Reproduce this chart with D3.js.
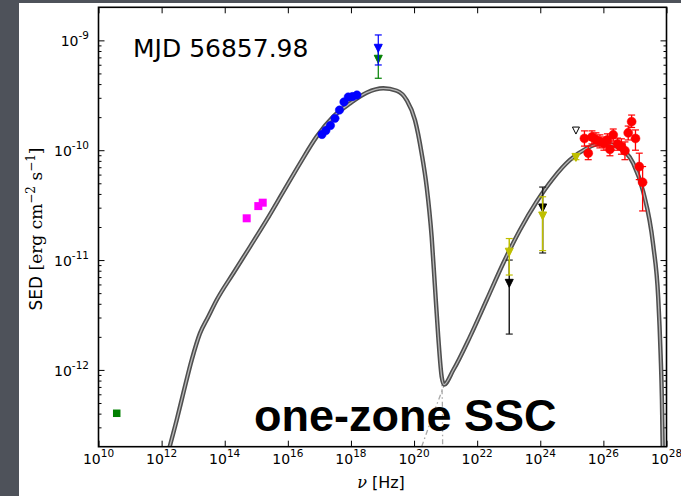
<!DOCTYPE html>
<html>
<head>
<meta charset="utf-8">
<script src="https://cdn.jsdelivr.net/npm/d3@7"></script>
<style>
  html, body { margin: 0; padding: 0; background: #4e525a; }
  svg { display: block; }
</style>
</head>
<body>
<svg id="chart" width="681" height="496"></svg>
<script>
// ---- axis ticks ----
const xTickValues = [1e10, 1e12, 1e14, 1e16, 1e18, 1e20, 1e22, 1e24, 1e26, 1e28];
const xTickExponents = ["10", "12", "14", "16", "18", "20", "22", "24", "26", "28"];
const yTickValues = [1e-12, 1e-11, 1e-10, 1e-9];
const yTickExponents = ["-12", "-11", "-10", "-9"];

// ---- one-zone SSC model (total) ----
const modelNu = [1.53e12, 3.01e12, 4.86e12, 8.97e12, 1.64e13, 3.01e13, 5.56e13, 1.87e14, 6.31e14, 2.14e15,
  7.18e15, 2.43e16, 8.20e16, 2.75e17, 9.31e17, 3.15e18, 1.06e19, 2.81e19, 5.83e19, 1.07e20,
  1.74e20, 2.51e20, 3.61e20, 4.59e20, 5.85e20, 7.50e20, 8.85e20, 1.75e21, 5.90e21, 2.00e22,
  6.70e22, 2.27e23, 7.66e23, 2.57e24, 8.71e24, 2.94e25, 9.89e25, 3.34e26, 8.81e26, 1.83e27,
  3.79e27, 5.47e27, 6.52e27, 7.16e27, 7.59e27];
const modelSED = [1.68e-13, 3.50e-13, 6.12e-13, 1.23e-12, 2.15e-12, 3.05e-12, 4.33e-12, 7.59e-12, 1.32e-11, 2.32e-11,
  4.19e-11, 7.60e-11, 1.33e-10, 2.02e-10, 2.67e-10, 3.34e-10, 3.66e-10, 3.48e-10, 2.86e-10, 1.88e-10,
  9.38e-11, 4.66e-11, 1.63e-11, 5.73e-12, 2.00e-12, 8.67e-13, 7.36e-13, 9.98e-13, 2.00e-12, 4.33e-12,
  9.35e-12, 1.88e-11, 3.40e-11, 5.55e-11, 8.15e-11, 1.04e-10, 1.16e-10, 1.04e-10, 7.60e-11, 4.19e-11,
  1.37e-11, 4.52e-12, 1.37e-12, 5.32e-13, 1.87e-13];

// ---- model components where they leave the total ----
const syncTailNu = [7.50e20, 7.90e20, 8.10e20];
const syncTailSED = [8.67e-13, 5.0e-13, 1.5e-13];
const icTailNu = [9.53e20, 4.5e20, 1.74e20, 1.33e20];
const icTailSED = [7.59e-13, 4.3e-13, 2.0e-13, 1.68e-13];

// ---- observations ----
const radioNu = [3.78e10];
const radioSED = [4.03e-13];

const opticalNu = [4.97e14, 1.16e15, 1.60e15];
const opticalSED = [2.40e-11, 3.10e-11, 3.33e-11];

const xrayNu = [1.21e17, 1.61e17, 2.24e17, 3.12e17, 4.33e17, 6.01e17, 8.22e17, 1.12e18, 1.55e18];
const xraySED = [1.39e-10, 1.51e-10, 1.68e-10, 1.95e-10, 2.32e-10, 2.75e-10, 3.05e-10, 3.08e-10, 3.18e-10];

const hardXgreenNu = [7.35e18];
const hardXgreenSED = [6.73e-10];
const hardXgreenLo = [4.52e-10];
const hardXgreenHi = [8.94e-10];

const hardXblueNu = [7.35e18];
const hardXblueSED = [8.47e-10];
const hardXblueLo = [5.97e-10];
const hardXblueHi = [1.12e-9];

const gammaBlackNu = [1.04e23, 1.19e24];
const gammaBlackSED = [6.14e-12, 2.98e-11];
const gammaBlackLo = [2.12e-12, 1.16e-11];
const gammaBlackHi = [1.00e-11, 4.62e-11];

const gammaYellowNu = [1.04e23, 1.19e24, 1.35e25];
const gammaYellowSED = [1.18e-11, 2.52e-11, 8.6e-11];
const gammaYellowLo = [7.31e-12, 1.22e-11, 8.2e-11];
const gammaYellowHi = [1.57e-11, 3.77e-11, 9.3e-11];

const gammaOpenNu = [1.35e25];
const gammaOpenSED = [1.51e-10];

const vheNu = [2.51e25, 3.31e25, 4.34e25, 5.81e25, 7.76e25, 1.04e26, 1.34e26, 1.61e26, 2.05e26, 2.79e26,
  3.73e26, 4.82e26, 6.12e26, 7.85e26, 1.04e27, 1.37e27, 1.75e27];
const vheSED = [1.28e-10, 9.4e-11, 1.32e-10, 1.25e-10, 1.20e-10, 1.15e-10, 1.24e-10, 1.02e-10, 1.38e-10, 1.14e-10,
  1.08e-10, 9.9e-11, 1.44e-10, 1.82e-10, 1.28e-10, 7.1e-11, 5.1e-11];
const vheLo = [1.09e-10, 8.2e-11, 1.14e-10, 1.09e-10, 1.05e-10, 1.00e-10, 1.09e-10, 8.9e-11, 1.21e-10, 1.00e-10,
  9.2e-11, 8.2e-11, 1.24e-10, 1.61e-10, 1.00e-10, 5.4e-11, 2.8e-11];
const vheHi = [1.50e-10, 1.09e-10, 1.50e-10, 1.44e-10, 1.38e-10, 1.32e-10, 1.41e-10, 1.16e-10, 1.56e-10, 1.29e-10,
  1.27e-10, 1.19e-10, 1.66e-10, 2.09e-10, 1.53e-10, 9.4e-11, 7.1e-11];

// ---- layout ----
const W = 681, H = 496;
const plot = { left: 98.5, right: 666.5, top: 7.3, bottom: 446.7 };

const svg = d3.select("#chart");

// slide background and white figure panel
svg.append("rect").attr("x", 0).attr("y", 0).attr("width", W).attr("height", H).attr("fill", "#4e525a");
svg.append("rect").attr("x", 19).attr("y", 3).attr("width", W - 19).attr("height", H - 3).attr("fill", "#ffffff");

const x = d3.scaleLog().domain([1e10, 1e28]).range([plot.left, plot.right]);
const y = d3.scaleLog().domain([2e-13, 2e-9]).range([plot.bottom, plot.top]);

svg.append("defs").append("clipPath").attr("id", "plotclip")
  .append("rect")
  .attr("x", plot.left).attr("y", plot.top)
  .attr("width", plot.right - plot.left).attr("height", plot.bottom - plot.top);

// ---- ticks (inward, on all four sides) ----
const yMinor = [];
for (let e = -13; e <= -9; e++) {
  for (let m = 2; m <= 9; m++) {
    const v = m * Math.pow(10, e);
    if (v > 2e-13 && v < 2e-9) yMinor.push(v);
  }
}

function styleAxis(g) {
  g.select(".domain").remove();
  g.selectAll(".tick line").attr("stroke", "#000").attr("stroke-width", 1);
}

svg.append("g").attr("transform", `translate(0,${plot.bottom})`)
  .call(d3.axisBottom(x).tickValues(xTickValues).tickSize(-6).tickFormat(() => "")).call(styleAxis);
svg.append("g").attr("transform", `translate(0,${plot.top})`)
  .call(d3.axisTop(x).tickValues(xTickValues).tickSize(-6).tickFormat(() => "")).call(styleAxis);
svg.append("g").attr("transform", `translate(${plot.left},0)`)
  .call(d3.axisLeft(y).tickValues(yTickValues).tickSize(-6).tickFormat(() => "")).call(styleAxis);
svg.append("g").attr("transform", `translate(${plot.left},0)`)
  .call(d3.axisLeft(y).tickValues(yMinor).tickSize(-3).tickFormat(() => "")).call(styleAxis);
svg.append("g").attr("transform", `translate(${plot.right},0)`)
  .call(d3.axisRight(y).tickValues(yTickValues).tickSize(-6).tickFormat(() => "")).call(styleAxis);
svg.append("g").attr("transform", `translate(${plot.right},0)`)
  .call(d3.axisRight(y).tickValues(yMinor).tickSize(-3).tickFormat(() => "")).call(styleAxis);

// tick labels with superscript exponents
const tickFont = "'DejaVu Sans', sans-serif";
xTickValues.forEach((v, i) => {
  const t = svg.append("text")
    .attr("x", x(v)).attr("y", 464)
    .attr("text-anchor", "middle")
    .attr("font-family", tickFont).attr("font-size", 14).attr("fill", "#000");
  t.append("tspan").text("10");
  t.append("tspan").attr("dy", -7).attr("font-size", 10.5).text(xTickExponents[i]);
});
yTickValues.forEach((v, i) => {
  const t = svg.append("text")
    .attr("x", 89).attr("y", y(v) + 6)
    .attr("text-anchor", "end")
    .attr("font-family", tickFont).attr("font-size", 14).attr("fill", "#000");
  t.append("tspan").text("10");
  t.append("tspan").attr("dy", -7).attr("font-size", 10.5).text(yTickExponents[i]);
});

// axis titles
const ylab = svg.append("text")
  .attr("transform", `translate(42,229) rotate(-90)`)
  .attr("text-anchor", "middle")
  .attr("font-family", tickFont).attr("font-size", 17).attr("fill", "#000");
ylab.append("tspan").text("SED ");
const ySerif = ylab.append("tspan").attr("font-family", "'DejaVu Serif', serif").attr("font-size", 17);
ySerif.append("tspan").text("[erg cm");
ySerif.append("tspan").attr("dy", -7).attr("font-size", 12).text("\u22122");
ySerif.append("tspan").attr("dy", 7).text(" s");
ySerif.append("tspan").attr("dy", -7).attr("font-size", 12).text("\u22121");
ySerif.append("tspan").attr("dy", 7).text("]");

const xlab = svg.append("text")
  .attr("x", 381).attr("y", 488)
  .attr("text-anchor", "middle")
  .attr("font-family", tickFont).attr("font-size", 16).attr("fill", "#000");
xlab.append("tspan").attr("font-family", "'DejaVu Serif', serif").attr("font-style", "italic").text("\u03BD");
xlab.append("tspan").text(" [Hz]");

// ---- model curves ----
const plotArea = svg.append("g").attr("clip-path", "url(#plotclip)");
const line = d3.line().x(d => x(d[0])).y(d => y(d[1])).curve(d3.curveMonotoneX);
const lineFree = d3.line().x(d => x(d[0])).y(d => y(d[1]));

const syncTail = syncTailNu.map((v, i) => [v, syncTailSED[i]]);
const icTail = icTailNu.map((v, i) => [v, icTailSED[i]]);
[syncTail, icTail].forEach(seg => {
  plotArea.append("path").attr("d", lineFree(seg))
    .attr("fill", "none").attr("stroke", "#a8a8a8").attr("stroke-width", 1.3)
    .attr("stroke-dasharray", "5,3,1.5,3");
});

const model = modelNu.map((v, i) => [v, modelSED[i]]);
plotArea.append("path").attr("d", line(model))
  .attr("fill", "none").attr("stroke", "#4f4f4f").attr("stroke-width", 4.4)
  .attr("stroke-linejoin", "round");
plotArea.append("path").attr("d", line(model))
  .attr("fill", "none").attr("stroke", "#b8b8b8").attr("stroke-width", 1.3)
  .attr("stroke-linejoin", "round");

// ---- markers ----
const marks = svg.append("g");

function errorBars(nu, lo, hi, color, width) {
  nu.forEach((v, i) => {
    const cx = x(v), y0 = y(lo[i]), y1 = y(hi[i]);
    marks.append("line").attr("x1", cx).attr("x2", cx).attr("y1", y0).attr("y2", y1)
      .attr("stroke", color).attr("stroke-width", width);
    [y0, y1].forEach(yy => {
      marks.append("line").attr("x1", cx - 3.5).attr("x2", cx + 3.5).attr("y1", yy).attr("y2", yy)
        .attr("stroke", color).attr("stroke-width", 1.2);
    });
  });
}
function downTriangles(nu, sed, fill, stroke, s) {
  nu.forEach((v, i) => {
    const cx = x(v), cy = y(sed[i]);
    marks.append("path")
      .attr("d", `M${cx - s},${cy - s} L${cx + s},${cy - s} L${cx},${cy + s} Z`)
      .attr("fill", fill).attr("stroke", stroke).attr("stroke-width", 1);
  });
}
function circles(nu, sed, color, r) {
  nu.forEach((v, i) => {
    marks.append("circle").attr("cx", x(v)).attr("cy", y(sed[i])).attr("r", r)
      .attr("fill", color).attr("stroke", color).attr("stroke-width", 0.5);
  });
}
function squares(nu, sed, color, s) {
  nu.forEach((v, i) => {
    marks.append("rect").attr("x", x(v) - s / 2).attr("y", y(sed[i]) - s / 2)
      .attr("width", s).attr("height", s).attr("fill", color);
  });
}

squares(radioNu, radioSED, "#008000", 7.5);
squares(opticalNu, opticalSED, "#ff00ff", 8);
circles(xrayNu, xraySED, "#0000ff", 4.2);

errorBars(hardXgreenNu, hardXgreenLo, hardXgreenHi, "#008000", 1.2);
downTriangles(hardXgreenNu, hardXgreenSED, "#008000", "#008000", 4);
errorBars(hardXblueNu, hardXblueLo, hardXblueHi, "#0000ff", 1.2);
downTriangles(hardXblueNu, hardXblueSED, "#0000ff", "#0000ff", 4);

errorBars(gammaBlackNu, gammaBlackLo, gammaBlackHi, "#222222", 1.5);
downTriangles(gammaBlackNu, gammaBlackSED, "#000000", "#000000", 4);
errorBars(gammaYellowNu, gammaYellowLo, gammaYellowHi, "#bfbf00", 1.5);
downTriangles(gammaYellowNu, gammaYellowSED, "#bfbf00", "#bfbf00", 4);
downTriangles(gammaOpenNu, gammaOpenSED, "#ffffff", "#000000", 3.5);

errorBars(vheNu, vheLo, vheHi, "#ff0000", 1.3);
circles(vheNu, vheSED, "#ff0000", 4.5);

// ---- frame ----
svg.append("rect")
  .attr("x", plot.left).attr("y", plot.top)
  .attr("width", plot.right - plot.left).attr("height", plot.bottom - plot.top)
  .attr("fill", "none").attr("stroke", "#000").attr("stroke-width", 1.6);

// ---- annotations ----
svg.append("text").attr("x", 133).attr("y", 57)
  .attr("font-family", tickFont).attr("font-size", 25).attr("fill", "#000")
  .text("MJD 56857.98");

svg.append("text").attr("x", 254).attr("y", 431)
  .attr("font-family", "'Liberation Sans', Arial, sans-serif").attr("font-weight", "bold")
  .attr("font-size", 45).attr("fill", "#000")
  .text("one-zone SSC");
</script>
</body>
</html>
